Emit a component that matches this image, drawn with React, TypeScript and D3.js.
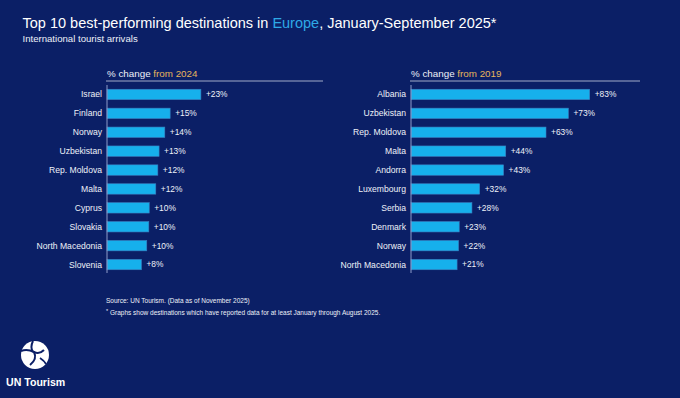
import * as d3 from "d3";

// chart values
const categories2024 = ["Israel", "Finland", "Norway", "Uzbekistan", "Rep. Moldova", "Malta", "Cyprus", "Slovakia", "North Macedonia", "Slovenia"];
const values2024 = [22.9, 15.4, 14.1, 12.7, 12.4, 11.9, 10.3, 10.2, 9.7, 8.4];
const labels2024 = ["+23%", "+15%", "+14%", "+13%", "+12%", "+12%", "+10%", "+10%", "+10%", "+8%"];

const categories2019 = ["Albania", "Uzbekistan", "Rep. Moldova", "Malta", "Andorra", "Luxembourg", "Serbia", "Denmark", "Norway", "North Macedonia"];
const values2019 = [83, 73.1, 62.7, 44, 43, 31.9, 28.3, 22.4, 22.1, 21.4];
const labels2019 = ["+83%", "+73%", "+63%", "+44%", "+43%", "+32%", "+28%", "+23%", "+22%", "+21%"];

const width = 680;
const height = 398;

const bg = "#0b1f66";
const barColor = "#16b0ec";
const barEdge = "#3a7fc0";
const gold = "#e6b45c";
const textColor = "#eef1f8";
const font = "'Liberation Sans', Arial, sans-serif";

const top = 85;
const bottom = 274;

type PanelProps = {
  cats: string[];
  vals: number[];
  labels: string[];
  x0: number;
  pxPerPct: number;
  lineEnd: number;
  year: string;
};

function Panel({ cats, vals, labels, x0, pxPerPct, lineEnd, year }: PanelProps) {
  const x = d3.scaleLinear().domain([0, 100]).range([x0, x0 + 100 * pxPerPct]);
  const y = d3.scaleBand<string>()
    .domain(cats)
    .range([top, bottom])
    .paddingInner(0.45)
    .paddingOuter(0.225);

  return (
    <g>
      <text x={x0} y={76.5} fontSize={9.8} fill={textColor}>
        % change <tspan fill={gold}>from {year}</tspan>
      </text>
      <line x1={x0 - 1} x2={lineEnd} y1={81} y2={81} stroke="#c9cfe2" strokeWidth={0.8} />
      {cats.map((c, i) => (
        <g key={c}>
          <rect
            x={x(0)}
            y={y(c)}
            width={x(vals[i]) - x(0)}
            height={y.bandwidth()}
            fill={barColor}
            stroke={barEdge}
            strokeWidth={0.6}
          />
          <text
            x={x0 - 5}
            y={(y(c) ?? 0) + y.bandwidth() / 2}
            dy="0.35em"
            textAnchor="end"
            fontSize={8.6}
            fill={textColor}
          >{c}</text>
          <text
            x={x(vals[i]) + 5}
            y={(y(c) ?? 0) + y.bandwidth() / 2}
            dy="0.35em"
            fontSize={8.4}
            fill={textColor}
          >{labels[i]}</text>
        </g>
      ))}
      <line x1={x0} x2={x0} y1={top} y2={bottom - 1} stroke="#8f9cc9" strokeWidth={1} />
    </g>
  );
}

function Logo() {
  // rough take on the UN Tourism globe mark
  return (
    <g>
      <circle cx={35} cy={355} r={14} fill="#fff" />
      <path d="M33,341 C31,345 31,349 33,352" fill="none" stroke={bg} strokeWidth={2} />
      <path d="M21,351 C26,349 30,350 34,352 C38,354 41,353 44,350" fill="none" stroke={bg} strokeWidth={2} />
      <path d="M34,352 C36,356 35,361 30,365" fill="none" stroke={bg} strokeWidth={2} />
      <path d="M40,358 C43,360 45,362 46,364" fill="none" stroke={bg} strokeWidth={1.8} />
      <text x={6} y={386} fontSize={10.6} fontWeight="bold" fill="#fff">UN Tourism</text>
    </g>
  );
}

export default function App() {
  return (
    <svg
      width={width}
      height={height}
      viewBox={`0 0 ${width} ${height}`}
      style={{ position: "absolute", left: 0, top: 0, fontFamily: font }}
    >
      <rect width={width} height={height} fill={bg} />

      <text x={22.5} y={27.5} fontSize={14.5} fill="#fff">
        Top 10 best-performing destinations in <tspan fill="#2ea9e6">Europe</tspan>, January-September 2025*
      </text>
      <text x={22.5} y={42} fontSize={9.6} fill={textColor}>International tourist arrivals</text>

      <Panel cats={categories2024} vals={values2024} labels={labels2024} x0={107} pxPerPct={4.1} lineEnd={323} year="2024" />
      <Panel cats={categories2019} vals={values2019} labels={labels2019} x0={411} pxPerPct={2.153} lineEnd={640} year="2019" />

      <text x={106} y={303} fontSize={6.5} fill={textColor}>Source: UN Tourism. (Data as of November 2025)</text>
      <text x={106} y={314.5} fontSize={6.5} fill={textColor}>
        <tspan fontSize={5.5} dy={-2}>*</tspan><tspan dy={2}> Graphs show destinations which have reported data for at least January through August 2025.</tspan>
      </text>

      <Logo />
    </svg>
  );
}
